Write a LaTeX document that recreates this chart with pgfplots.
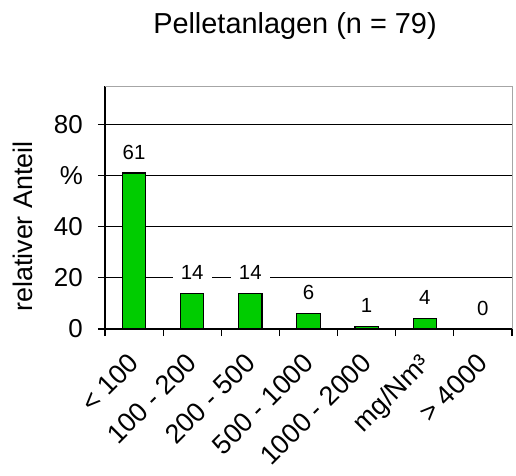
\documentclass[border=0pt]{standalone}
\usepackage{pgfplots}
\pgfplotsset{compat=1.18}
\usepackage{fontspec}
\setmainfont{Liberation Sans}
\definecolor{bargreen}{RGB}{0,204,0}
\begin{document}
\begin{tikzpicture}
\begin{axis}[
  scale only axis,
  width=407bp, height=243bp,
  xmin=-0.5, xmax=6.5,
  ymin=0, ymax=95,
  axis x line*=bottom, axis y line*=left,
  axis line style={line width=1.4bp},
  /pgf/number format/assume math mode=true,
  ytick={0,20,40,60,80},
  yticklabels={0,20,40,\%,80},
  ymajorgrids,
  grid style={black, line width=1.1bp},
  tick align=outside,
  major tick length=7bp,
  tick style={black, line width=1.1bp},
  yticklabel style={font=\fontsize{26}{30}\selectfont, anchor=east, inner xsep=15bp},
  xtick={-0.5,0.5,...,6.5},
  xticklabels={},
  extra x ticks={0,1,2,3,4,5,6},
  extra x tick labels={< 100,100 - 200,200 - 500,500 - 1000,1000 - 2000,mg/Nm³,> 4000},
  extra x tick style={major tick length=0pt, grid=none,
    xticklabel style={font=\fontsize{27}{31}\selectfont, xshift=-7bp, yshift=-12.7bp, rotate=45, anchor=north east, inner sep=7bp}},
  ybar, bar width=0.4,
  nodes near coords,
  nodes near coords style={anchor=center, yshift=21bp, fill=white, inner xsep=8bp, inner ysep=7bp, font=\fontsize{20.5}{24}\selectfont},
]
\addplot[fill=bargreen, draw=black, line width=1.2bp] coordinates {(0,61) (1,14) (2,14) (3,6) (4,1) (5,4) (6,0)};
\end{axis}
\draw[gray!70, line width=0.6bp] (current axis.north west) -- (current axis.north east) -- (current axis.south east);
\node[anchor=base, font=\fontsize{29}{33}\selectfont] at ([shift={(190bp,53bp)}]current axis.north west) {Pelletanlagen (n = 79)};
\node[anchor=base, rotate=90, font=\fontsize{27}{31}\selectfont] at ([shift={(-72bp,102.5bp)}]current axis.south west) {relativer Anteil};
\pgfresetboundingbox
\path ([shift={(-105bp,-147bp)}]current axis.south west) rectangle ([shift={(4bp,86bp)}]current axis.north east);
\end{tikzpicture}
\end{document}
